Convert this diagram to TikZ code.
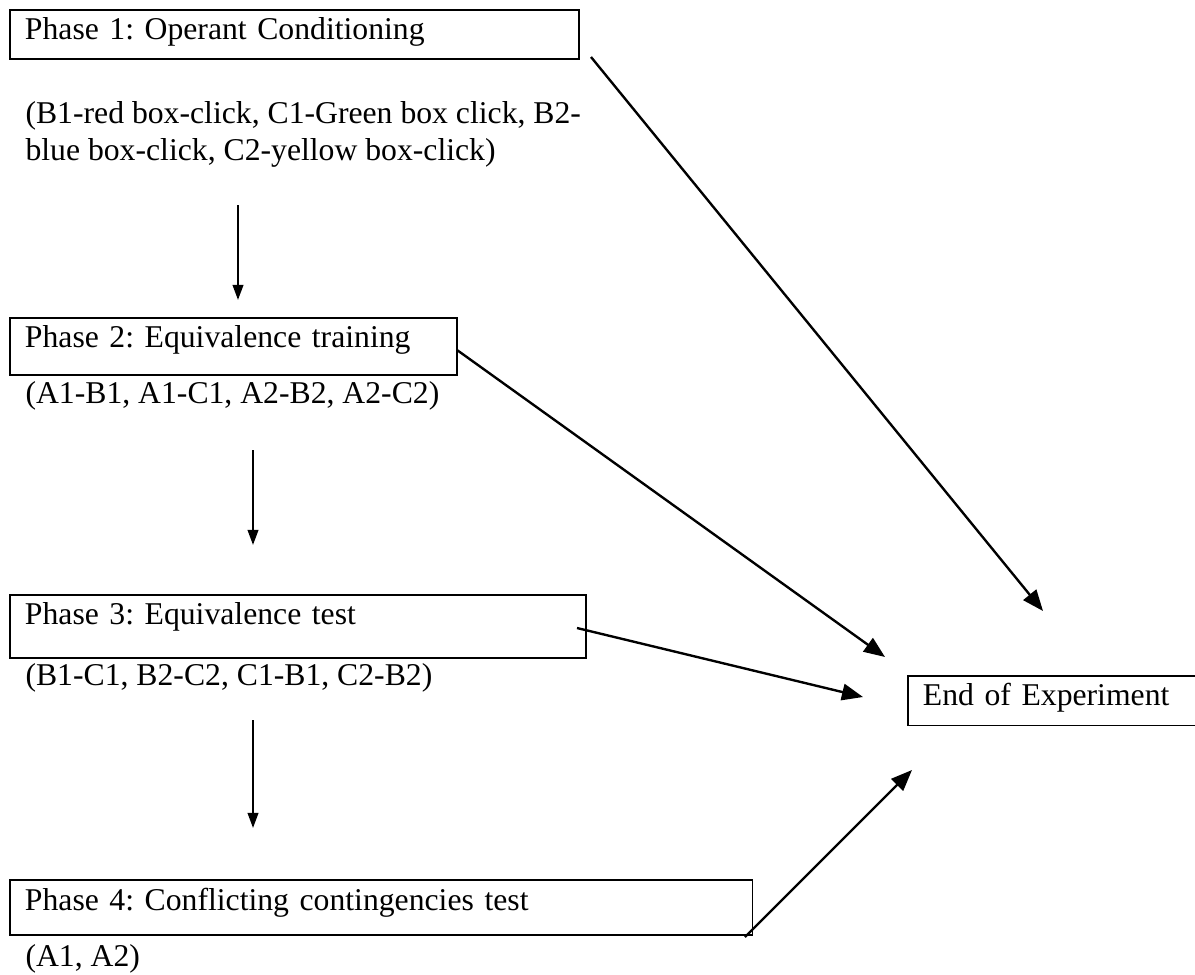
\documentclass[tikz,border=0pt]{standalone}
\usepackage{fontspec}
\setmainfont{Liberation Serif}
\usetikzlibrary{arrows.meta}
\frenchspacing

\begin{document}
\begin{tikzpicture}[x=0.0133cm, y=-0.0133cm,
    every node/.style={font=\fontsize{12}{13.8}\selectfont},
    phasebox/.style 2 args={draw, line width=0.7pt, anchor=north west, inner xsep=0.2cm, inner ysep=0pt,
        text width=#1, text height=0.4cm, text depth=#2, align=left},
    note/.style={anchor=base west, inner sep=0pt, align=left},
    downarrow/.style={line width=0.8pt, -{Triangle[length=0.2cm, width=0.14cm]}},
    endarrow/.style={line width=0.9pt, -{Triangle[length=0.28cm, width=0.22cm]}}]
    %%%%% START %%%%%

    \useasboundingbox (0,0) rectangle (1195,974);

    % phases
    \node[phasebox={7.17cm}{0.25cm}] (ph1) at (9,9) {Phase 1: Operant Conditioning};
    \node[note] (d1) at (25,160) {(B1-red box-click, C1-Green box click, B2-\\blue box-click, C2-yellow box-click)};

    \node[phasebox={5.55cm}{0.36cm}] (ph2) at (9,317) {Phase 2: Equivalence training};
    \node[note] (d2) at (25,403) {(A1-B1, A1-C1, A2-B2, A2-C2)};

    \node[phasebox={7.26cm}{0.44cm}] (ph3) at (9,594) {Phase 3: Equivalence test};
    \node[note] (d3) at (25,685) {(B1-C1, B2-C2, C1-B1, C2-B2)};

    \node[phasebox={9.48cm}{0.33cm}] (ph4) at (9,879) {Phase 4: Conflicting contingencies test};
    \node[note] (d4) at (25,966) {(A1, A2)};

    \node[phasebox={3.6cm}{0.26cm}] (endexp) at (907,675) {End of Experiment};

    % arrow ends
    \coordinate (s1) at (238,205);  \coordinate (t1) at (238,300);
    \coordinate (s2) at (253,450);  \coordinate (t2) at (253,545);
    \coordinate (s3) at (253,720);  \coordinate (t3) at (253,828);

    \coordinate (e1s) at (591,57);  \coordinate (e1t) at (1043,611);
    \coordinate (e2s) at (457,350); \coordinate (e2t) at (885,657);
    \coordinate (e3s) at (577,628); \coordinate (e3t) at (863,697);
    \coordinate (e4s) at (745,937); \coordinate (e4t) at (912,770);

    \draw[downarrow] (s1) -- (t1);
    \draw[downarrow] (s2) -- (t2);
    \draw[downarrow] (s3) -- (t3);

    \draw[endarrow] (e1s) -- (e1t);
    \draw[endarrow] (e2s) -- (e2t);
    \draw[endarrow] (e3s) -- (e3t);
    \draw[endarrow] (e4s) -- (e4t);

    %%%%% END %%%%%
\end{tikzpicture}
\end{document}
